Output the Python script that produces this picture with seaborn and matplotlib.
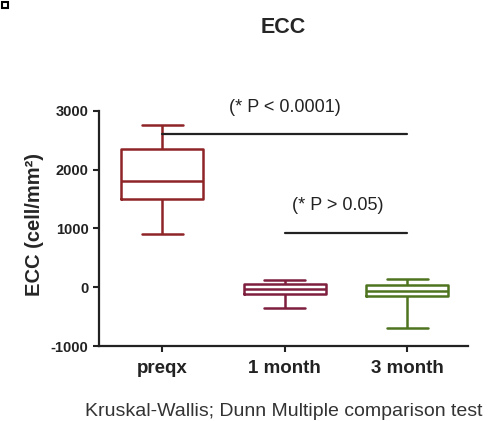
# ============================================================
# ECC box plot - preqx vs 1 month vs 3 month
# ============================================================

import numpy as np
import pandas as pd
import matplotlib.pyplot as plt
import seaborn as sns
from matplotlib.patches import Rectangle

# ============================================================
# Data (min, Q1, median, Q3, max)
# ============================================================

groups = ["preqx", "1 month", "3 month"]
preqx_vals = [900, 1500, 1800, 2350, 2750]
month1_vals = [-345, -112, -30, 57, 125]
month3_vals = [-695, -152, -60, 46, 147]
box_colors = ["#8E2426", "#7E1F3E", "#4E7420"]

sig_labels = ["(* P < 0.0001)", "(* P > 0.05)"]
sig_levels = [2610, 915]
sig_spans = [(0, 2), (1, 2)]

y_ticks = [-1000, 0, 1000, 2000, 3000]

df = pd.DataFrame({
    "group": np.repeat(groups, 5),
    "ecc": preqx_vals + month1_vals + month3_vals
})

# ============================================================
# Plot
# ============================================================

sns.set_style("ticks")
plt.rcParams["font.family"] = ["Liberation Sans", "DejaVu Sans"]
plt.rcParams["axes.unicode_minus"] = False

fig = plt.figure(figsize=(4.89, 4.21), dpi=100)
ax = fig.add_axes([0.2025, 0.178, 0.755, 0.559])

sns.boxplot(
    data=df,
    x="group",
    y="ecc",
    hue="group",
    palette=box_colors,
    saturation=1,
    fill=False,
    width=0.67,
    whis=(0, 100),
    linewidth=1.8,
    legend=False,
    ax=ax
)

# significance bars
for (x0, x1), lvl in zip(sig_spans, sig_levels):
    ax.plot([x0, x1], [lvl, lvl], color="#222222", lw=1.6, clip_on=False)

ax.text(1.0, 3050, sig_labels[0], ha="center", va="center",
        fontsize=13, color="#222222")
ax.text(1.43, 1385, sig_labels[1], ha="center", va="center",
        fontsize=13, color="#222222")

ax.set_xlim(-0.514, 2.496)
ax.set_ylim(-1000, 3000)
ax.set_yticks(y_ticks)

ax.set_xlabel("")
ax.set_ylabel("ECC (cell/mm²)", fontsize=14.5, fontweight="bold")
ax.yaxis.set_label_coords(-0.15, 0.518)
ax.set_title("ECC", fontsize=15.5, fontweight="bold", pad=56)

ax.tick_params(axis="both", width=1.5, length=4,
               color="#222222", labelcolor="#222222")
ax.tick_params(axis="y", labelsize=10.5)
ax.tick_params(axis="x", labelsize=13.5, pad=6)
for lbl in ax.get_xticklabels() + ax.get_yticklabels():
    lbl.set_fontweight("bold")

sns.despine(ax=ax)
for side in ["left", "bottom"]:
    ax.spines[side].set_linewidth(1.6)
    ax.spines[side].set_color("#222222")

fig.text(0.581, 0.023, "Kruskal-Wallis; Dunn Multiple comparison test",
         ha="center", va="center", fontsize=14, color="#333333")

# small square marker in the top-left corner
fig.patches.append(Rectangle((2, 413), 6, 6, transform=None, fill=False,
                             edgecolor="black", lw=1.5))

fig.savefig("out.png", dpi=100)
